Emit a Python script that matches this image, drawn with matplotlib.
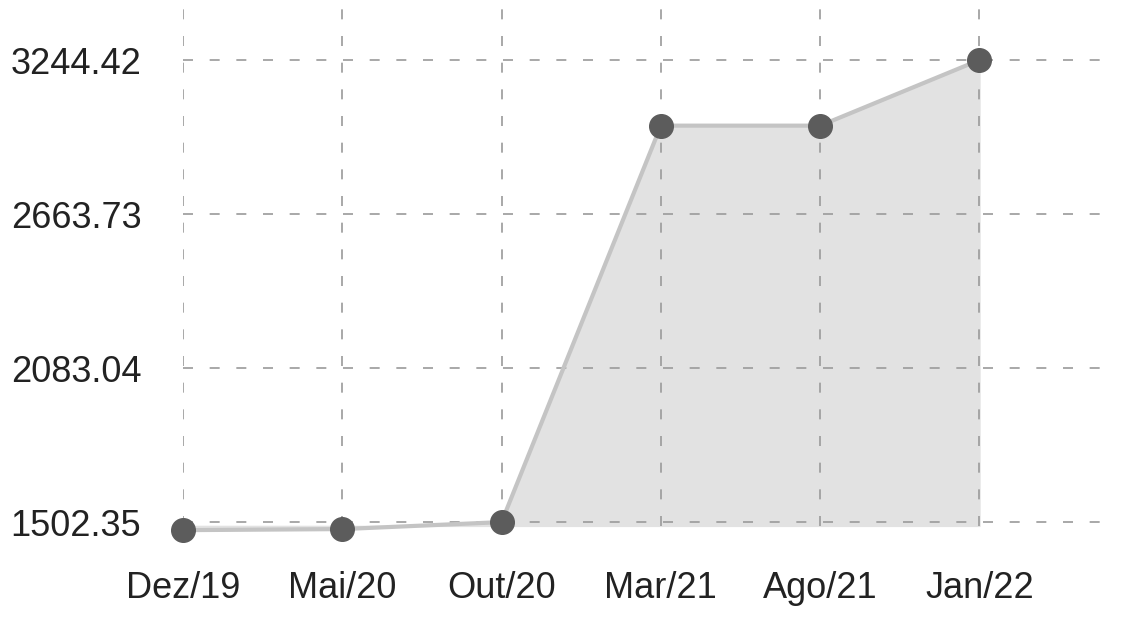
import matplotlib.pyplot as plt

months = ["Dez/19", "Mai/20", "Out/20", "Mar/21", "Ago/21", "Jan/22"]
values = [1472, 1476, 1502.35, 2997, 2997, 3244.42]
y_ticks = [1502.35, 2083.04, 2663.73, 3244.42]


def draw_chart():
    plt.rcParams["font.family"] = ["Liberation Sans", "DejaVu Sans"]
    fig = plt.figure(figsize=(11.33, 6.18), dpi=100)
    ax = fig.add_axes([0.1615, 0.134, 0.8225, 0.866])

    x = list(range(len(months)))
    y_min = 1453
    y_max = 3470.7
    fill_base = 1488
    ax.fill_between(x, values, fill_base, color="#e2e2e2", zorder=1)
    ax.plot(x, values, color="#c4c4c4", linewidth=3, zorder=2)
    ax.plot(x, values, "o", color="#5c5c5c", markersize=17,
            clip_on=False, zorder=3)

    ax.set_xlim(0, 5.85)
    ax.set_ylim(y_min, y_max)

    ax.vlines(x, fill_base, y_max, color="#9a9a9a", linestyle=(0, (6, 10)),
              linewidth=1.2, zorder=1.5)
    for yt in y_ticks:
        ax.axhline(yt, color="#9a9a9a", linestyle=(0, (6, 10)),
                   linewidth=1.2, zorder=1.5)

    ax.set_xticks(x)
    ax.set_xticklabels(months)
    ax.set_yticks(y_ticks)
    ax.set_yticklabels(["%.2f" % v for v in y_ticks])
    ax.tick_params(axis="both", length=0, labelsize=26, colors="#222222")
    ax.tick_params(axis="x", pad=26)
    ax.tick_params(axis="y", pad=30)
    for spine in ax.spines.values():
        spine.set_visible(False)

    fig.savefig("out.png", dpi=100)


if __name__ == '__main__':
    draw_chart()
